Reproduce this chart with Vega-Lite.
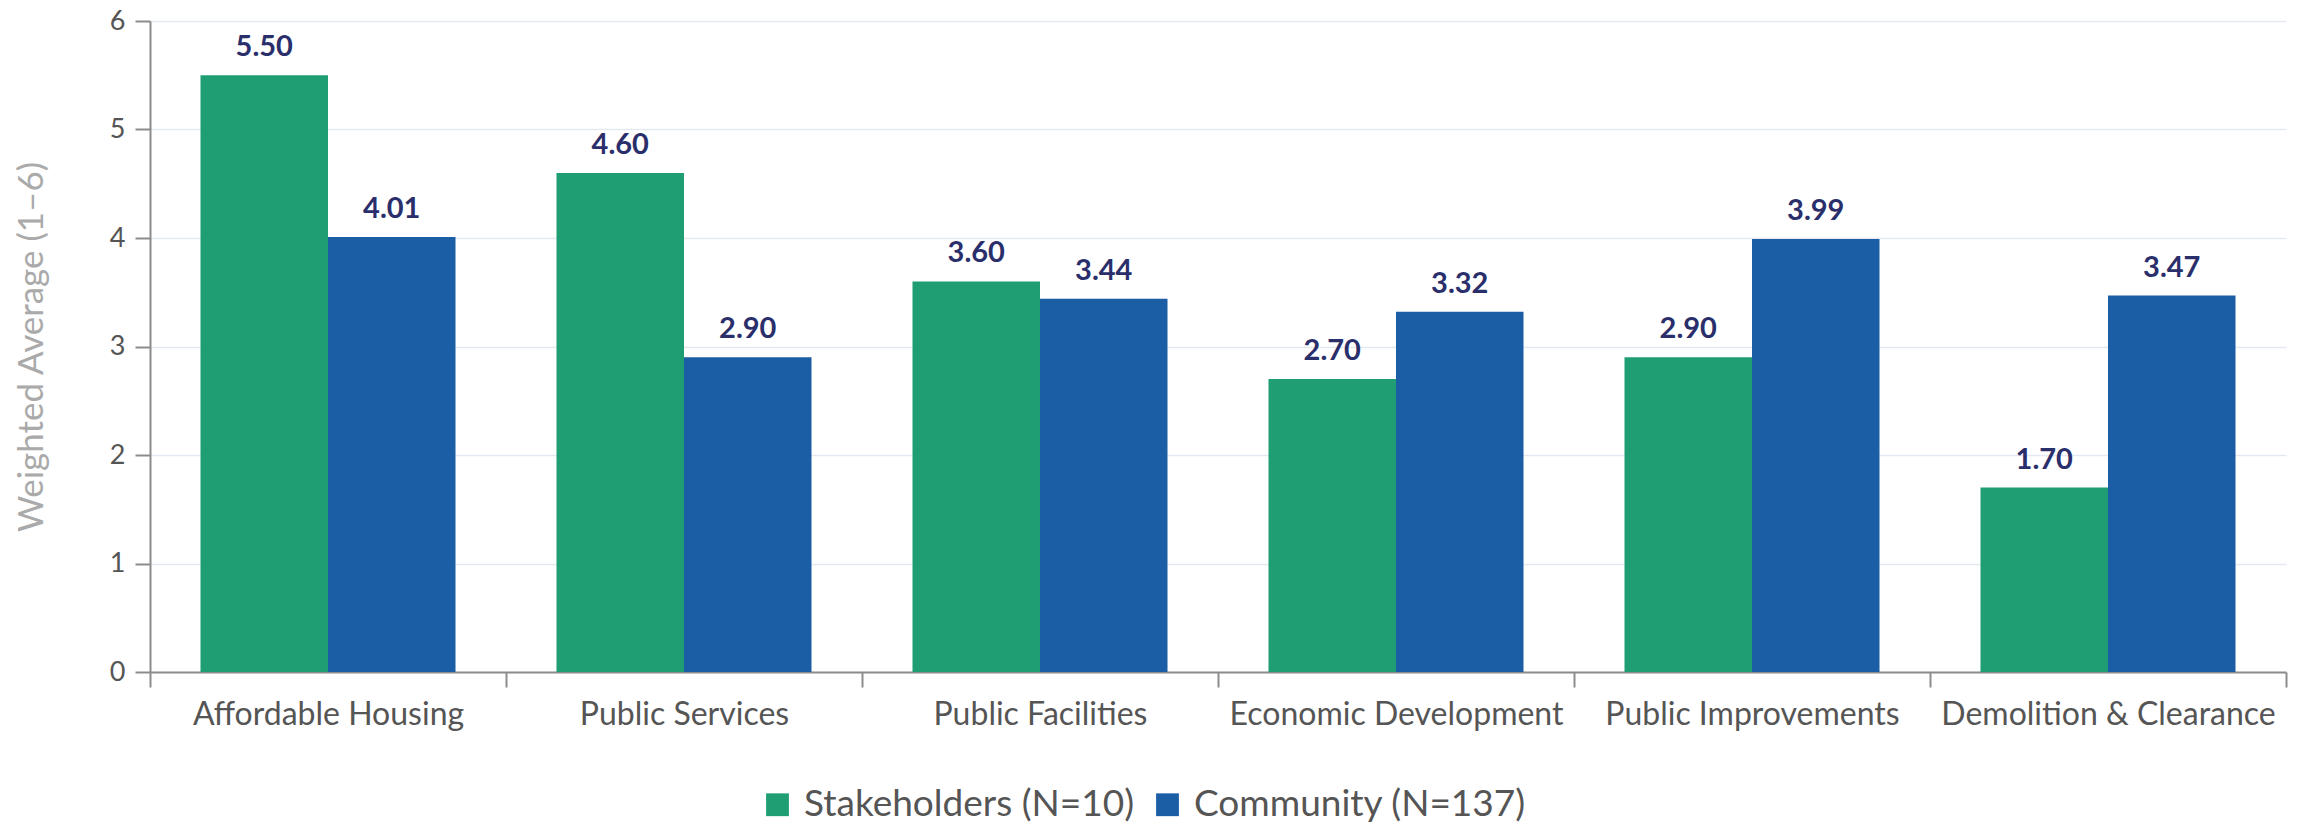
{
  "$schema": "https://vega.github.io/schema/vega-lite/v6.json",
  "width": 2136,
  "height": 651,
  "autosize": "none",
  "padding": {"left": 150, "top": 21, "right": 14, "bottom": 153},
  "background": "#ffffff",
  "data": {
    "values": [
      {"category": "Affordable Housing", "group": "Stakeholders (N=10)", "value": 5.50},
      {"category": "Affordable Housing", "group": "Community (N=137)", "value": 4.01},
      {"category": "Public Services", "group": "Stakeholders (N=10)", "value": 4.60},
      {"category": "Public Services", "group": "Community (N=137)", "value": 2.90},
      {"category": "Public Facilities", "group": "Stakeholders (N=10)", "value": 3.60},
      {"category": "Public Facilities", "group": "Community (N=137)", "value": 3.44},
      {"category": "Economic Development", "group": "Stakeholders (N=10)", "value": 2.70},
      {"category": "Economic Development", "group": "Community (N=137)", "value": 3.32},
      {"category": "Public Improvements", "group": "Stakeholders (N=10)", "value": 2.90},
      {"category": "Public Improvements", "group": "Community (N=137)", "value": 3.99},
      {"category": "Demolition & Clearance", "group": "Stakeholders (N=10)", "value": 1.70},
      {"category": "Demolition & Clearance", "group": "Community (N=137)", "value": 3.47}
    ]
  },
  "config": {
    "font": "Lato",
    "view": {"stroke": null}
  },
  "encoding": {
    "x": {
      "field": "category",
      "type": "nominal",
      "sort": null,
      "scale": {"paddingInner": 0, "paddingOuter": 0},
      "axis": {
        "title": null,
        "labelAngle": 0,
        "labelLimit": 0,
        "labelFont": "Lato",
        "labelFontSize": 32,
        "labelColor": "#555555",
        "labelPadding": 12,
        "tickBand": "extent",
        "tickSize": 15,
        "tickWidth": 2,
        "tickColor": "#8c8c8c",
        "domainColor": "#8c8c8c",
        "domainWidth": 2,
        "grid": false
      }
    },
    "xOffset": {
      "field": "group",
      "type": "nominal",
      "sort": ["Stakeholders (N=10)", "Community (N=137)"],
      "scale": {"paddingInner": 0, "paddingOuter": 0.396}
    },
    "y": {
      "field": "value",
      "type": "quantitative",
      "scale": {"domain": [0, 6], "nice": false},
      "axis": {
        "title": "Weighted Average (1–6)",
        "titleFont": "Lato",
        "titleFontSize": 35,
        "titleFontWeight": "normal",
        "titleColor": "#aaaaaa",
        "titlePadding": 60,
        "values": [0, 1, 2, 3, 4, 5, 6],
        "labelFont": "Lato",
        "labelFontSize": 27,
        "labelColor": "#555555",
        "labelPadding": 10,
        "tickSize": 15,
        "tickWidth": 2,
        "tickColor": "#8c8c8c",
        "domainColor": "#8c8c8c",
        "domainWidth": 2,
        "gridColor": "#e4e9f1",
        "gridWidth": 1.5
      }
    }
  },
  "layer": [
    {
      "mark": {"type": "bar"},
      "encoding": {
        "color": {
          "field": "group",
          "type": "nominal",
          "sort": ["Stakeholders (N=10)", "Community (N=137)"],
          "scale": {"domain": ["Stakeholders (N=10)", "Community (N=137)"], "range": ["#1f9e74", "#1b5ea6"]},
          "legend": {
            "title": null,
            "orient": "none",
            "direction": "horizontal",
            "legendX": 609,
            "legendY": 765,
            "labelLimit": 0,
            "symbolType": "square",
            "symbolSize": 520,
            "symbolStrokeWidth": 0,
            "labelFont": "Lato",
            "labelFontSize": 37,
            "labelColor": "#555555",
            "labelOffset": 8,
            "columnPadding": 14
          }
        }
      }
    },
    {
      "mark": {"type": "text", "baseline": "alphabetic", "dy": -19, "font": "Lato", "fontSize": 29, "fontWeight": "bold", "color": "#2a2f6b"},
      "encoding": {
        "text": {"field": "value", "type": "quantitative", "format": ".2f"}
      }
    }
  ]
}
